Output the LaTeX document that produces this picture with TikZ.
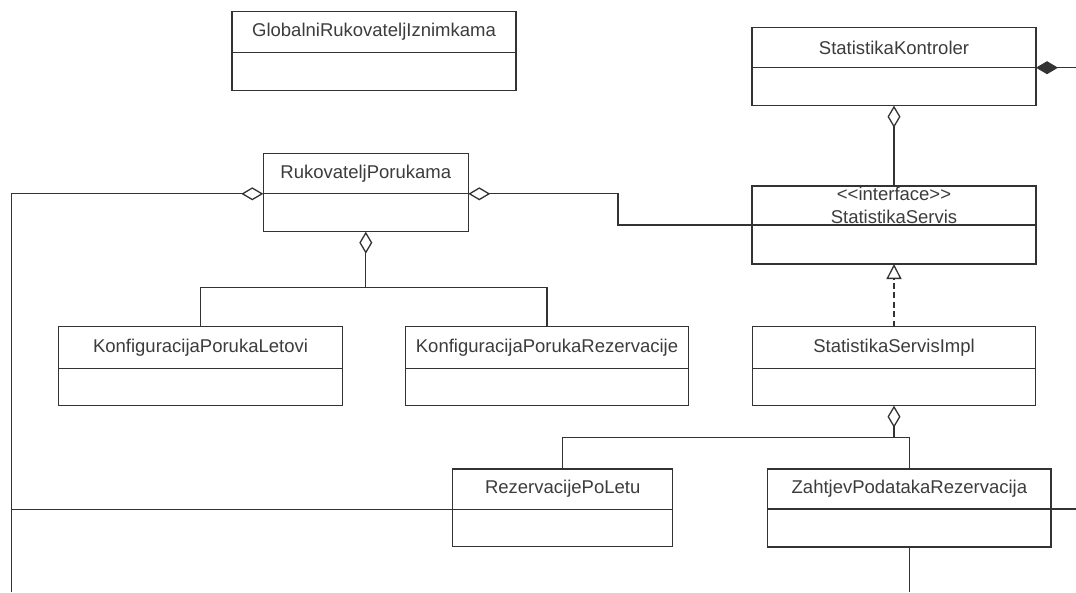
\documentclass[tikz,border=0pt]{standalone}
\usepackage{fontspec}
\setmainfont{Liberation Sans}
\usetikzlibrary{arrows.meta,calc}
\definecolor{ink}{HTML}{333333}
\definecolor{txt}{HTML}{3C3C3C}
\tikzset{
 cls/.style={draw=ink, line width=1.3pt, fill=white, rectangle, inner sep=0pt, outer sep=0pt, anchor=north west},
 ttl/.style={text=txt, inner sep=0pt, font=\fontsize{18.5}{22.7}\selectfont, align=center},
 conn/.style={draw=ink, line width=1.3pt},
 aggr/.style={conn, {Diamond[open, length=22pt, width=13pt]}-},
 comp/.style={conn, {Diamond[length=22pt, width=13pt]}-},
 real/.style={conn, dash pattern=on 6pt off 3.5pt, -{Triangle[open, length=15pt, width=15pt]}},
}
\newcommand{\umlcls}[7]{%
 \node[cls, minimum width=#4pt, minimum height=#5pt] (#1) at (#2,#3) {};
 \coordinate (#1-d) at ($(#1.north west)+(0pt,-#6pt)$);
 \draw[conn] (#1-d) -- (#1-d -| #1.east);
 \node[ttl] (#1-t) at ($(#1.north)+(0pt,-#6pt/2)$) {#7};
}
\begin{document}
\begin{tikzpicture}[x=1pt,y=-1pt]
\fill[white] (0,0) rectangle (1076,592);
\useasboundingbox (0,0) rectangle (1076,592);

\umlcls{glob}{232}{11.7}{284}{79}{40.6}{GlobalniRukovateljIznimkama}
\umlcls{kon}{752}{27.3}{284}{78.4}{40.4}{StatistikaKontroler}
\umlcls{ruk}{263.3}{153.3}{205}{78.4}{40.5}{RukovateljPorukama}
\umlcls{serv}{752}{186}{284}{78}{39}{{<}{<}interface{>}{>}\\StatistikaServis}
\umlcls{kpl}{58.3}{326.7}{284.4}{79}{41.6}{KonfiguracijaPorukaLetovi}
\umlcls{kpr}{405.7}{326.7}{282.6}{79}{41.6}{KonfiguracijaPorukaRezervacije}
\umlcls{impl}{752.3}{326.7}{283.4}{79}{41.6}{StatistikaServisImpl}
\umlcls{rez}{452.7}{469}{220}{77.7}{40.3}{RezervacijePoLetu}
\umlcls{zah}{767.7}{469}{283.4}{78}{40}{ZahtjevPodatakaRezervacija}

\coordinate (Lt) at (11.7,193.8);
\coordinate (Lb) at (11.7,592);
\draw[aggr] (ruk-d) -- (Lt) -- (Lb);
\draw[conn] (rez-d) -- (rez-d -| Lt);

\coordinate (J1) at (618,193.8);
\draw[aggr] (ruk-d -| ruk.east) -- (J1) -- (J1 |- serv-d) -- (serv-d);

\coordinate (B1) at (0,287.3);
\draw[aggr] (ruk.south) -- (ruk.south |- B1);
\draw[conn] (kpl.north) -- (kpl.north |- B1) -- (kpr.north |- B1) -- (kpr.north);

\draw[aggr] (kon.south) -- (serv.north);
\coordinate (Kr) at (1076,0);
\draw[comp] (kon-d -| kon.east) -- (kon-d -| Kr);

\draw[real] (impl.north) -- (serv.south);

\coordinate (B2) at (0,437.3);
\draw[aggr] (impl.south) -- (impl.south |- B2);
\draw[conn] (rez.north) -- (rez.north |- B2) -- (zah.north |- B2) -- (zah.north);
\draw[conn] (zah-d -| zah.east) -- (zah-d -| Kr);
\coordinate (Bt) at (0,592);
\draw[conn] (zah.south) -- (zah.south |- Bt);
\end{tikzpicture}
\end{document}
